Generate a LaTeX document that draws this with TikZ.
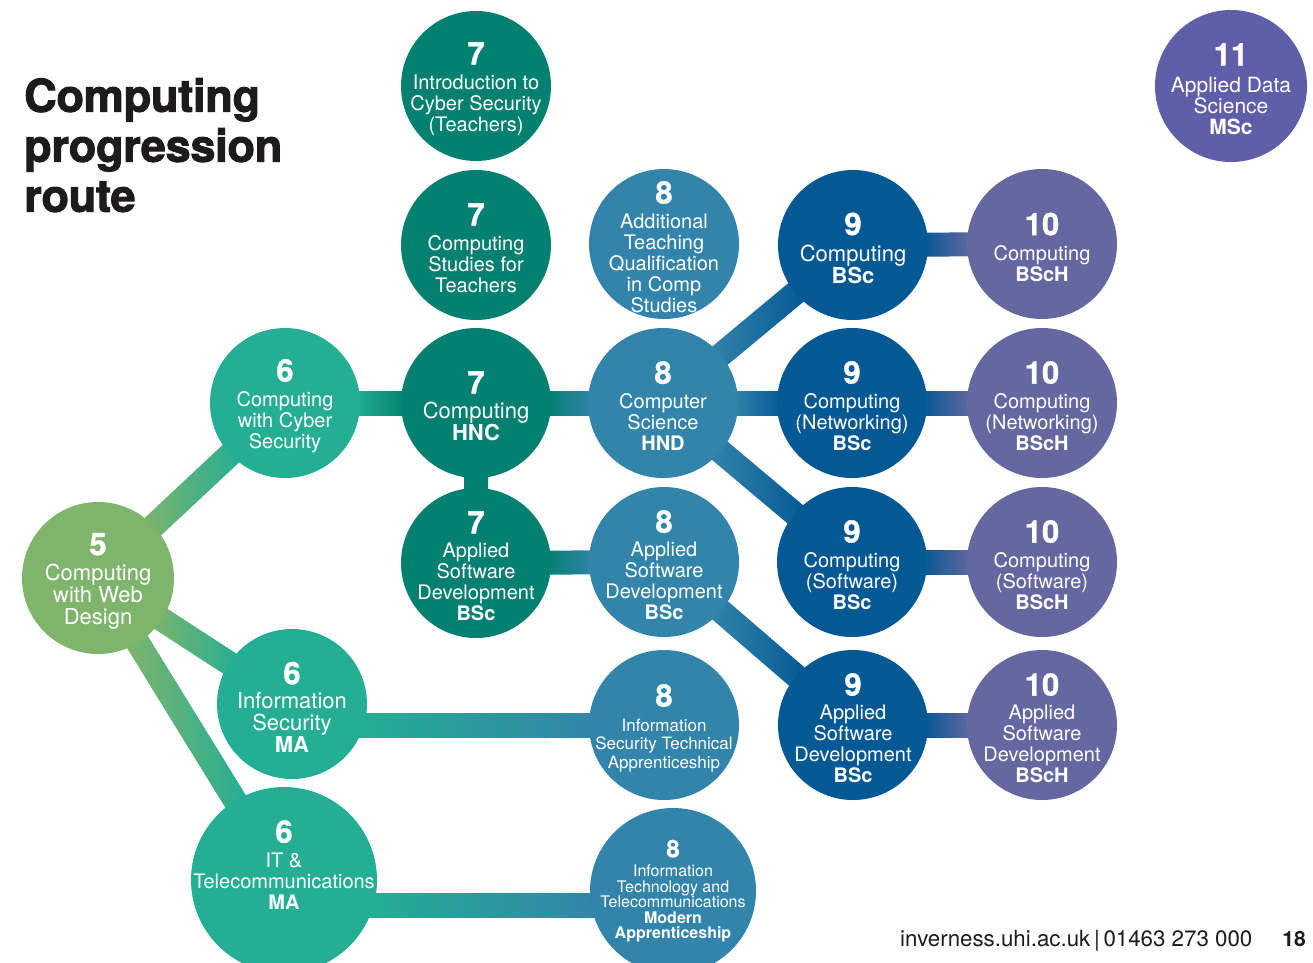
\documentclass[tikz,border=0pt]{standalone}
\usepackage{fontspec}
\setmainfont{TeX Gyre Heros}
\newfontfamily\heavyfont[FakeBold=2.2,LetterSpace=-0.5]{TeX Gyre Heros Bold}
\newfontfamily\digitfont[FakeBold=1]{TeX Gyre Heros Bold}
\usetikzlibrary{calc}
\pgfdeclarelayer{bg}
\pgfsetlayers{bg,main}
\definecolor{c5}{HTML}{7EB46C}
\definecolor{c6}{HTML}{24AE94}
\definecolor{c7}{HTML}{03806F}
\definecolor{c8}{HTML}{3384AB}
\definecolor{c9}{HTML}{045994}
\definecolor{c10}{HTML}{6568A0}
\definecolor{c11}{HTML}{5F5EA8}
\definecolor{ink}{HTML}{1E1B1C}
\newcommand\lv[1]{{\digitfont\fontsize{31}{31}\selectfont #1}}
\newcommand\conn[6]{%
  \path ($(#1)!#3!(#2)$) coordinate (ls) ($(#2)!#4!(#1)$) coordinate (le);
  \path[left color=#5, right color=#6]
    ($(ls)!12pt!90:(le)$) -- ($(le)!12pt!-90:(ls)$) --
    ($(le)!12pt!90:(ls)$) -- ($(ls)!12pt!-90:(le)$) -- cycle;
}
\tikzset{
  circ/.style={circle, minimum size=150pt, inner sep=0pt, fill=#1},
  lbl/.style={text=white, align=center, inner sep=0pt, yshift=-3pt, font=\fontsize{20}{21}\selectfont},
  lblbig/.style={lbl, font=\fontsize{22}{22}\selectfont},
}
\begin{document}
\begin{tikzpicture}[x=1pt,y=-1pt]
\useasboundingbox (0,0) rectangle (1313,962);

% title
\node[anchor=north west, align=left, inner sep=0pt, text=ink,
  font=\heavyfont\fontsize{45}{50}\selectfont] (title) at (24,78)
  {Computing\\progression\\route};

% circles
\node[circ=c7] (n7a) at (476,86) {};
\node[circ=c7] (n7b) at (476,245) {};
\node[circ=c8] (n8a) at (664,244) {};
\node[circ=c9] (n9a) at (853,245) {};
\node[circ=c10] (n10a) at (1042,244) {};
\node[circ=c11, minimum size=152pt] (n11) at (1231,86) {};
\node[circ=c6] (n6a) at (285,403) {};
\node[circ=c7] (n7c) at (476,403) {};
\node[circ=c8] (n8b) at (663,403) {};
\node[circ=c9] (n9b) at (852,403) {};
\node[circ=c10] (n10b) at (1042,403) {};
\node[circ=c5, minimum size=152pt] (n5) at (98,578) {};
\node[circ=c7] (n7d) at (476,563) {};
\node[circ=c8] (n8c) at (664,562) {};
\node[circ=c9] (n9c) at (852,562) {};
\node[circ=c10] (n10c) at (1042,562) {};
\node[circ=c6] (n6b) at (292,704) {};
\node[circ=c8] (n8d) at (664,725) {};
\node[circ=c9] (n9d) at (853,725) {};
\node[circ=c10] (n10d) at (1042,725) {};
\node[circ=c6, minimum size=186pt] (n6c) at (284,880) {};
\node[circ=c8, minimum size=166pt] (n8e) at (673,891) {};

% labels
\node[lbl] (t7a) at (n7a) {\lv{7}\\[4pt]Introduction to\\Cyber Security\\(Teachers)};
\node[lbl] (t7b) at (n7b) {\lv{7}\\[4pt]Computing\\Studies for\\Teachers};
\node[lbl] (t8a) at (n8a) {\lv{8}\\[4pt]Additional\\Teaching\\Qualification\\in Comp\\Studies};
\node[lblbig] (t9a) at (n9a) {\lv{9}\\[4pt]Computing\\\textbf{BSc}};
\node[lbl] (t10a) at (n10a) {\lv{10}\\[4pt]Computing\\\textbf{BScH}};
\node[lbl, font=\fontsize{21}{21}\selectfont] (t11) at (n11) {\lv{11}\\[6pt]Applied Data\\Science\\\textbf{MSc}};
\node[lbl] (t6a) at (n6a) {\lv{6}\\[4pt]Computing\\with Cyber\\Security};
\node[lblbig] (t7c) at (n7c) {\lv{7}\\[3pt]Computing\\\textbf{HNC}};
\node[lbl] (t8b) at (n8b) {\lv{8}\\[4pt]Computer\\Science\\\textbf{HND}};
\node[lbl] (t9b) at (n9b) {\lv{9}\\[4pt]Computing\\(Networking)\\\textbf{BSc}};
\node[lbl] (t10b) at (n10b) {\lv{10}\\[4pt]Computing\\(Networking)\\\textbf{BScH}};
\node[lblbig] (t5) at (n5) {\lv{5}\\[3pt]Computing\\with Web\\Design};
\node[lbl] (t7d) at (n7d) {\lv{7}\\[3pt]Applied\\Software\\Development\\\textbf{BSc}};
\node[lbl] (t8c) at (n8c) {\lv{8}\\[3pt]Applied\\Software\\Development\\\textbf{BSc}};
\node[lbl] (t9c) at (n9c) {\lv{9}\\[4pt]Computing\\(Software)\\\textbf{BSc}};
\node[lbl] (t10c) at (n10c) {\lv{10}\\[4pt]Computing\\(Software)\\\textbf{BScH}};
\node[lblbig] (t6b) at (n6b) {\lv{6}\\[2pt]Information\\Security\\\textbf{MA}};
\node[lbl, font=\fontsize{17}{18.5}\selectfont] (t8d) at (n8d) {\lv{8}\\[6pt]Information\\Security Technical\\Apprenticeship};
\node[lbl] (t9d) at (n9d) {\lv{9}\\[3pt]Applied\\Software\\Development\\\textbf{BSc}};
\node[lbl] (t10d) at (n10d) {\lv{10}\\[3pt]Applied\\Software\\Development\\\textbf{BScH}};
\node[lbl, yshift=3pt] (t6c) at ($(n6c)+(0,-15)$) {\lv{6}\\[4pt]IT \&\\Telecommunications\\\textbf{MA}};
\node[lbl, yshift=3pt, font=\fontsize{16}{15.5}\selectfont] (t8e) at (n8e)
  {{\digitfont\fontsize{24}{24}\selectfont 8}\\[4pt]Information\\Technology and\\Telecommunications\\\textbf{Modern}\\\textbf{Apprenticeship}};

% footer
\node[anchor=base west, inner sep=0pt, text=ink, font=\fontsize{22.3}{22}\selectfont] (web) at (900,946)
  {inverness.uhi.ac.uk\,|\,01463 273 000};
\node[anchor=base east, inner sep=0pt, text=ink, font=\fontsize{21}{21}\selectfont\bfseries] (page) at (1306,946) {18};

% connectors (behind circles)
\begin{pgfonlayer}{bg}
\fill[white] (0,0) rectangle (1313,962);
\conn{n5}{n6a}{70pt}{70pt}{c5}{c6}
\conn{n5}{n6b}{70pt}{70pt}{c5}{c6}
\conn{n5}{n6c}{70pt}{88pt}{c5}{c6}
\conn{n6a}{n7c}{70pt}{70pt}{c6}{c7}
\conn{n7c}{n8b}{70pt}{70pt}{c7}{c8}
\conn{n7c}{n7d}{70pt}{70pt}{c7}{c7}
\conn{n7d}{n8c}{70pt}{70pt}{c7}{c8}
\conn{n8b}{n9a}{70pt}{70pt}{c8}{c9}
\conn{n8b}{n9b}{70pt}{70pt}{c8}{c9}
\conn{n8b}{n9c}{70pt}{70pt}{c8}{c9}
\conn{n8c}{n9d}{70pt}{70pt}{c8}{c9}
\conn{n9a}{n10a}{70pt}{70pt}{c9}{c10}
\conn{n9b}{n10b}{70pt}{70pt}{c9}{c10}
\conn{n9c}{n10c}{70pt}{70pt}{c9}{c10}
\conn{n9d}{n10d}{70pt}{70pt}{c9}{c10}
\path[left color=c6, right color=c8] ($(n6b.east)+(-8,9)$) rectangle ($(n8d.west)+(8,12)$);
\path[left color=c6, right color=c8] ($(n6c.east)+(-8,13)$) rectangle ($(n8e.west)+(8,26)$);
\end{pgfonlayer}
\end{tikzpicture}
\end{document}
